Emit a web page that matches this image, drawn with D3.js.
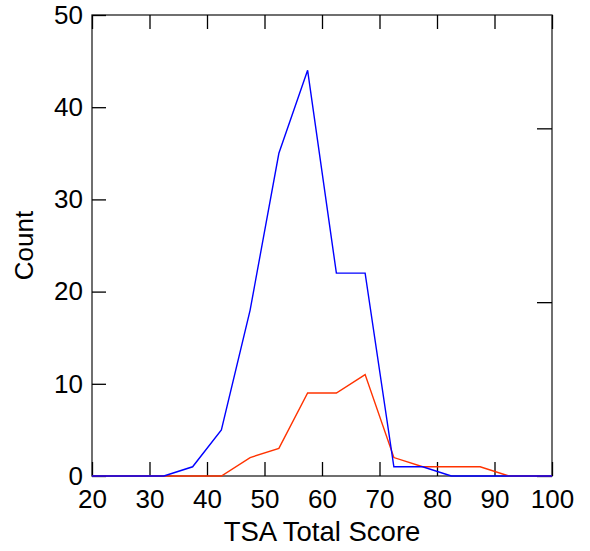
<!DOCTYPE html>
<html>
<head>
<meta charset="utf-8">
<script src="https://cdn.jsdelivr.net/npm/d3@7"></script>
<style>
  body { margin: 0; background: #fff; }
  text { font-family: "Liberation Sans", Arial, sans-serif; fill: #000; }
</style>
</head>
<body>
<svg id="chart"></svg>
<script>
'use strict';

// bin centres of the TSA total score histogram (ends run past the frame, clipped)
var scoreBins = [17.5, 22.5, 27.5, 32.5, 37.5, 42.5, 47.5, 52.5, 57.5, 62.5,
                 67.5, 72.5, 77.5, 82.5, 87.5, 92.5, 97.5, 102.5];
var blueCounts = [0, 0, 0, 0, 1, 5, 18, 35, 44, 22, 22, 1, 1, 0, 0, 0, 0, 0];
var redCounts  = [0, 0, 0, 0, 0, 0, 2, 3, 9, 9, 11, 2, 1, 1, 1, 0, 0, 0];
var xTicks = [20, 30, 40, 50, 60, 70, 80, 90, 100];
var yTicks = [0, 10, 20, 30, 40, 50];
var rightTicks = [0, 1, 2];   // odd secondary axis on the right edge

var canvasWidth = 590;
var canvasHeight = 551;
var margin = { top: 15, right: 38, bottom: 75, left: 92 };
var width = canvasWidth - margin.left - margin.right;
var height = canvasHeight - margin.top - margin.bottom;

var svg = d3.select('#chart')
  .attr('width', canvasWidth)
  .attr('height', canvasHeight);

var g = svg.append('g')
  .attr('transform', 'translate(' + margin.left + ',' + margin.top + ')');

var xScale = d3.scaleLinear().domain([20, 100]).range([0, width]);
var yScale = d3.scaleLinear().domain([0, 50]).range([height, 0]);
var yRight = d3.scaleLinear().domain([0, 2.652]).range([height, 0]);

svg.append('defs').append('clipPath').attr('id', 'plotClip')
  .append('rect').attr('y', -10).attr('width', width).attr('height', height + 20);

// frame
g.append('rect')
  .attr('width', width).attr('height', height)
  .attr('fill', 'none').attr('stroke', '#333').attr('stroke-width', 1.4);

// axes with inward ticks
function styleAxis(sel) {
  sel.select('.domain').remove();
  sel.selectAll('.tick line').attr('stroke', '#000').attr('stroke-width', 1.3);
  sel.selectAll('.tick text').style('font-size', '26px').attr('fill', '#000');
}

g.append('g')
  .attr('transform', 'translate(0,' + height + ')')
  .call(d3.axisBottom(xScale).tickValues(xTicks).tickSizeInner(-14).tickSizeOuter(0).tickPadding(14))
  .call(styleAxis);

g.append('g')
  .call(d3.axisTop(xScale).tickValues(xTicks).tickSizeInner(-14).tickSizeOuter(0).tickFormat(''))
  .call(styleAxis);

g.append('g')
  .call(d3.axisLeft(yScale).tickValues(yTicks).tickSizeInner(-14).tickSizeOuter(0).tickPadding(9))
  .call(styleAxis);

g.append('g')
  .attr('transform', 'translate(' + width + ',0)')
  .call(d3.axisRight(yRight).tickValues(rightTicks).tickSizeInner(-15).tickSizeOuter(0).tickFormat(''))
  .call(styleAxis);

// lines, red first so blue sits on top along zero
var line = function(vals) {
  return d3.line()
    .x(function(d, i) { return xScale(scoreBins[i]); })
    .y(function(d) { return yScale(d); })(vals);
};

var lines = g.append('g').attr('clip-path', 'url(#plotClip)');
lines.append('path').attr('d', line(redCounts))
  .attr('fill', 'none').attr('stroke', '#ff3300').attr('stroke-width', 1.4);
lines.append('path').attr('d', line(blueCounts))
  .attr('fill', 'none').attr('stroke', '#0000ff').attr('stroke-width', 1.4);

// axis titles
g.append('text')
  .attr('x', width / 2).attr('y', 541 - margin.top)
  .attr('text-anchor', 'middle')
  .style('font-size', '27.5px')
  .text('TSA Total Score');

g.append('text')
  .attr('transform', 'translate(' + (33 - margin.left) + ',' + (height / 2) + ') rotate(-90)')
  .attr('text-anchor', 'middle')
  .style('font-size', '26px')
  .text('Count');
</script>
</body>
</html>
